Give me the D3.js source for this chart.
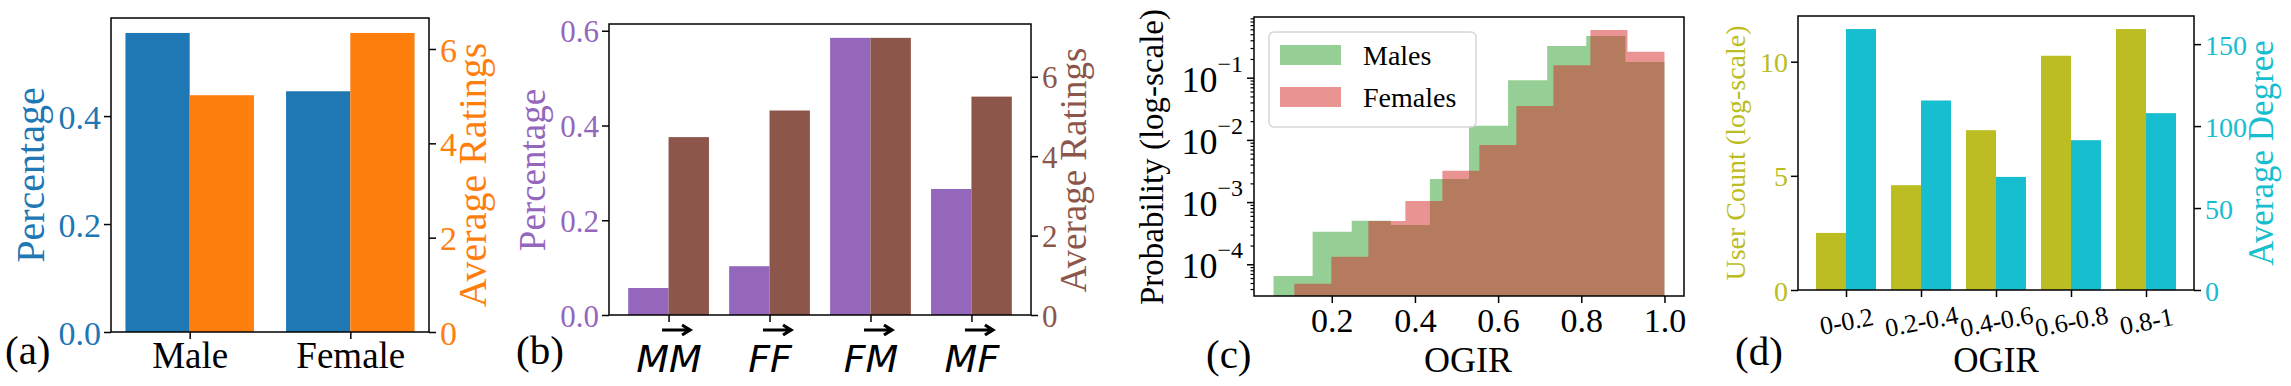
<!DOCTYPE html>
<html>
<head>
<meta charset="utf-8">
<script src="https://cdn.jsdelivr.net/npm/d3@7"></script>
<style>
  body { margin: 0; background: #fff; }
  text { font-family: "Liberation Serif", "Times New Roman", serif; }
</style>
</head>
<body>
<div id="chart"></div>
<script>
// ---- data ----
// (a) gender
let genderCats = ["Male", "Female"];
let genderPct = [0.554, 0.446];
let genderRatings = [5.02, 6.34];

// (b) directed pairs
let pairCats = ["MM", "FF", "FM", "MF"];
let pairPct = [0.057, 0.103, 0.585, 0.266];
let pairRatings = [4.48, 5.15, 6.98, 5.5];

// (c) OGIR histograms (log y)
let maleEdges = [0.06, 0.154, 0.248, 0.342, 0.436, 0.53, 0.624, 0.718, 0.812, 0.906, 1.0];
let maleProb = [6.5e-5, 3.34e-4, 5.0e-4, 4.28e-4, 2.35e-3, 0.0169, 0.0908, 0.323, 0.468, 0.179];
let femaleEdges = [0.11, 0.199, 0.288, 0.377, 0.466, 0.555, 0.644, 0.733, 0.822, 0.911, 1.0];
let femaleProb = [4.87e-5, 1.32e-4, 4.97e-4, 1.04e-3, 3.2e-3, 8.28e-3, 0.0351, 0.158, 0.585, 0.262];
let ogirTicks = [0.2, 0.4, 0.6, 0.8, 1.0];
let logTicks = [1e-4, 1e-3, 1e-2, 1e-1];
let logTickExp = ["\u22124", "\u22123", "\u22122", "\u22121"];

// (d) OGIR buckets
let ogirCats = ["0-0.2", "0.2-0.4", "0.4-0.6", "0.6-0.8", "0.8-1"];
let userCount = [2.5, 4.59, 7.0, 10.26, 11.43];
let avgDegree = [159.2, 115.6, 69, 91.4, 107.9];

let svgWidth = 2291;
let svgHeight = 386;

let svg = d3.select("#chart")
  .append("svg")
  .attr("width", svgWidth)
  .attr("height", svgHeight)
  .style("display", "block");

function styleAxis(ax, size, color) {
  ax.attr("font-family", null).attr("font-size", null);
  ax.select(".domain").remove();
  ax.selectAll("line").attr("stroke", "#000").attr("stroke-width", 1.5);
  ax.selectAll("text").style("font-size", size + "px").attr("fill", color);
}

function rotLabel(x, y, txt, size, color) {
  svg.append("text")
    .attr("transform", `translate(${x},${y}) rotate(-90)`)
    .attr("text-anchor", "middle")
    .style("font-size", size + "px")
    .attr("fill", color)
    .text(txt);
}

function plainLabel(x, y, txt, size, anchor) {
  svg.append("text")
    .attr("x", x).attr("y", y)
    .attr("text-anchor", anchor || "start")
    .style("font-size", size + "px")
    .attr("fill", "#000")
    .text(txt);
}

// twin-axis grouped bars
function twinBars(o) {
  let g = svg.append("g");
  let n = o.cats.length;
  let span = n - 1 + 0.8;
  let x = d3.scaleLinear()
    .domain([-0.4 - 0.05 * span, n - 1 + 0.4 + 0.05 * span])
    .range([o.box.left, o.box.right]);
  let yL = d3.scaleLinear().domain([0, d3.max(o.leftVals) * 1.05]).range([o.box.bottom, o.box.top]);
  let yR = d3.scaleLinear().domain([0, d3.max(o.rightVals) * 1.05]).range([o.box.bottom, o.box.top]);

  g.selectAll("rect.lb").data(o.leftVals).enter().append("rect")
    .attr("x", (d, i) => x(i - 0.4))
    .attr("width", (d, i) => x(i) - x(i - 0.4))
    .attr("y", d => yL(d))
    .attr("height", d => yL(0) - yL(d))
    .attr("fill", o.leftColor);
  g.selectAll("rect.rb").data(o.rightVals).enter().append("rect")
    .attr("x", (d, i) => x(i))
    .attr("width", (d, i) => x(i + 0.4) - x(i))
    .attr("y", d => yR(d))
    .attr("height", d => yR(0) - yR(d))
    .attr("fill", o.rightColor);

  g.append("rect")
    .attr("x", o.box.left).attr("y", o.box.top)
    .attr("width", o.box.right - o.box.left)
    .attr("height", o.box.bottom - o.box.top)
    .attr("fill", "none").attr("stroke", "#000").attr("stroke-width", 1.5);

  let la = g.append("g").attr("transform", `translate(${o.box.left},0)`)
    .call(d3.axisLeft(yL).tickValues(o.leftTicks).tickFormat(o.leftFmt).tickSize(7).tickPadding(3));
  styleAxis(la, o.tickFont, o.leftColor);
  la.selectAll("text").attr("dy", "0.36em");

  let ra = g.append("g").attr("transform", `translate(${o.box.right},0)`)
    .call(d3.axisRight(yR).tickValues(o.rightTicks).tickFormat(d3.format("d")).tickSize(7).tickPadding(4));
  styleAxis(ra, o.tickFont, o.rightColor);
  ra.selectAll("text").attr("dy", "0.36em");

  let xa = g.append("g").attr("transform", `translate(0,${o.box.bottom})`)
    .call(d3.axisBottom(x).tickValues(d3.range(n)).tickFormat(i => o.cats[i]).tickSize(7));
  styleAxis(xa, o.xFont, "#000");
  return { g: g, x: x, xa: xa };
}

// ---------- (a) ----------
let pa = twinBars({
  box: { left: 111, right: 429, top: 18, bottom: 332 },
  cats: genderCats, leftVals: genderPct, rightVals: genderRatings,
  leftColor: "#1f77b4", rightColor: "#ff7f0e",
  leftTicks: [0, 0.2, 0.4], leftFmt: d3.format(".1f"), rightTicks: [0, 2, 4, 6],
  tickFont: 34, xFont: 37
});
pa.xa.selectAll("text").attr("y", 36).attr("dy", 0);
rotLabel(44, 175, "Percentage", 40, "#1f77b4");
rotLabel(486, 175, "Average Ratings", 40, "#ff7f0e");
plainLabel(5, 364, "(a)", 41);

// ---------- (b) ----------
let pb = twinBars({
  box: { left: 609, right: 1031, top: 24, bottom: 315 },
  cats: pairCats, leftVals: pairPct, rightVals: pairRatings,
  leftColor: "#9467bd", rightColor: "#8c564b",
  leftTicks: [0, 0.2, 0.4, 0.6], leftFmt: d3.format(".1f"), rightTicks: [0, 2, 4, 6],
  tickFont: 31, xFont: 38
});
pb.xa.selectAll("text")
  .attr("y", 57).attr("dy", 0)
  .style("font-family", "'DejaVu Sans', sans-serif")
  .style("font-style", "italic");
pb.xa.selectAll(".tick").append("path")
  .attr("d", "M-7,15 H21 M13,10 L21,15 L13,20")
  .attr("fill", "none").attr("stroke", "#000").attr("stroke-width", 3.2)
  .attr("stroke-linejoin", "miter");
rotLabel(545, 170, "Percentage", 37, "#9467bd");
rotLabel(1086, 170, "Average Ratings", 37, "#8c564b");
plainLabel(516, 364, "(b)", 41);

// ---------- (c) ----------
let boxC = { left: 1254, right: 1684, top: 17, bottom: 296 };
let xC = d3.scaleLinear().domain([0.013, 1.047]).range([boxC.left, boxC.right]);
let yC = d3.scaleLog().domain([3.09e-5, 0.946]).range([boxC.bottom, boxC.top]);
let gc = svg.append("g");

// one step outline per histogram, so the translucent bins have no seams
function histStep(edges, probs, color) {
  let pts = [[xC(edges[0]), boxC.bottom]];
  probs.forEach((p, i) => {
    pts.push([xC(edges[i]), yC(p)]);
    pts.push([xC(edges[i + 1]), yC(p)]);
  });
  pts.push([xC(edges[edges.length - 1]), boxC.bottom]);
  gc.append("path")
    .attr("d", d3.line()(pts) + "Z")
    .attr("fill", color)
    .attr("fill-opacity", 0.5);
}
histStep(maleEdges, maleProb, "#2ca02c");
histStep(femaleEdges, femaleProb, "#d62728");

gc.append("rect")
  .attr("x", boxC.left).attr("y", boxC.top)
  .attr("width", boxC.right - boxC.left).attr("height", boxC.bottom - boxC.top)
  .attr("fill", "none").attr("stroke", "#000").attr("stroke-width", 1.5);

// minor log ticks
let minorTicks = [];
for (let e = -5; e <= -1; e++) {
  for (let k = 2; k <= 9; k++) {
    let v = k * Math.pow(10, e);
    if (v > yC.domain()[0] && v < yC.domain()[1]) minorTicks.push(v);
  }
}
let minorAx = gc.append("g").attr("transform", `translate(${boxC.left},0)`)
  .call(d3.axisLeft(yC).tickValues(minorTicks).tickFormat("").tickSize(3.5));
styleAxis(minorAx, 10, "#000");
minorAx.selectAll("line").attr("stroke-width", 1.2);

let majorAx = gc.append("g").attr("transform", `translate(${boxC.left},0)`)
  .call(d3.axisLeft(yC).tickValues(logTicks).tickFormat("").tickSize(7));
styleAxis(majorAx, 10, "#000");

logTicks.forEach((v, i) => {
  let t = gc.append("text")
    .attr("x", 1243).attr("y", yC(v) + 14)
    .attr("text-anchor", "end")
    .attr("fill", "#000");
  t.append("tspan").style("font-size", "36px").text("10");
  t.append("tspan").style("font-size", "24px").attr("dy", -20).text(logTickExp[i]);
});

let xaC = gc.append("g").attr("transform", `translate(0,${boxC.bottom})`)
  .call(d3.axisBottom(xC).tickValues(ogirTicks).tickFormat(d3.format(".1f")).tickSize(7));
styleAxis(xaC, 34, "#000");
xaC.selectAll("text").attr("y", 36).attr("dy", 0);

// legend
let lg = gc.append("g");
lg.append("rect")
  .attr("x", 1269).attr("y", 32).attr("width", 207).attr("height", 95)
  .attr("rx", 5)
  .attr("fill", "#fff").attr("fill-opacity", 0.8)
  .attr("stroke", "#d6d6d6").attr("stroke-width", 1.5);
let legendItems = [["Males", "#2ca02c"], ["Females", "#d62728"]];
legendItems.forEach((it, i) => {
  lg.append("rect")
    .attr("x", 1280).attr("y", 45 + i * 42).attr("width", 61).attr("height", 20)
    .attr("fill", it[1]).attr("fill-opacity", 0.5);
  lg.append("text")
    .attr("x", 1363).attr("y", 65 + i * 42)
    .style("font-size", "28px").attr("fill", "#000")
    .text(it[0]);
});

rotLabel(1163, 157, "Probability (log-scale)", 33, "#000");
plainLabel(1468, 372, "OGIR", 36, "middle");
plainLabel(1206, 368, "(c)", 41);

// ---------- (d) ----------
let pd = twinBars({
  box: { left: 1798, right: 2194, top: 16, bottom: 290 },
  cats: ogirCats, leftVals: userCount, rightVals: avgDegree,
  leftColor: "#bcbd22", rightColor: "#17becf",
  leftTicks: [0, 5, 10], leftFmt: d3.format("d"), rightTicks: [0, 50, 100, 150],
  tickFont: 28, xFont: 26
});
pd.xa.selectAll("text")
  .attr("y", 0).attr("dy", "0.35em")
  .attr("transform", "translate(0,31) rotate(-11)");
rotLabel(1745, 153, "User Count (log-scale)", 28, "#bcbd22");
rotLabel(2273, 153, "Average Degree", 35, "#17becf");
plainLabel(1996, 372, "OGIR", 35, "middle");
plainLabel(1735, 365, "(d)", 41);
</script>
</body>
</html>
